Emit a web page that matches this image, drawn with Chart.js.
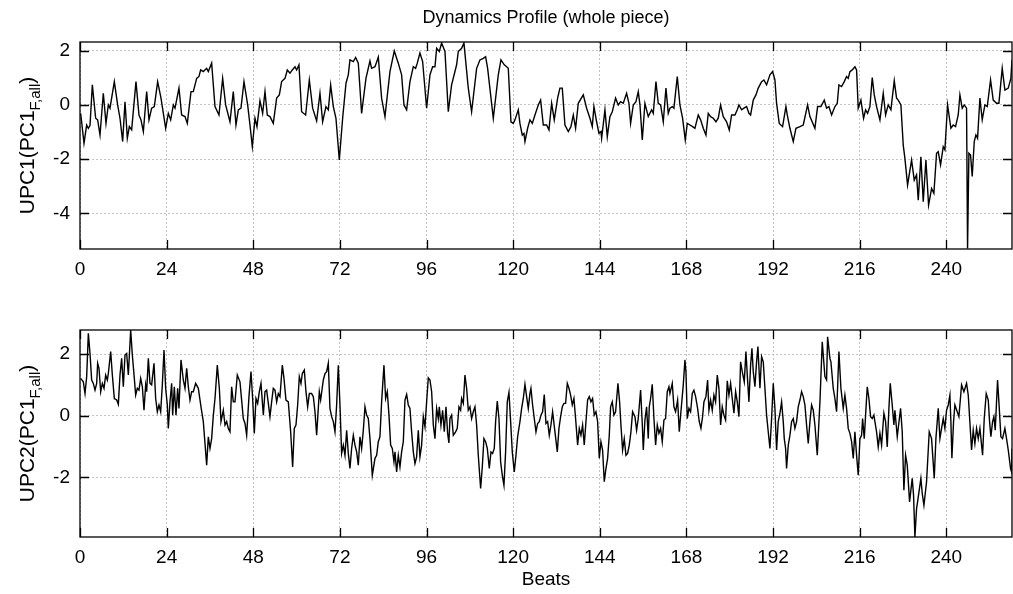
<!DOCTYPE html>
<html><head><meta charset="utf-8">
<script src="https://cdn.jsdelivr.net/npm/chart.js@4/dist/chart.umd.min.js"></script>
<style>
html,body{margin:0;padding:0;background:#fff;width:1013px;height:594px;overflow:hidden}
canvas{position:absolute;left:0;display:block}
#c1{top:0}
#c2{top:300px}
</style></head><body>
<canvas id="c1" width="1013" height="300"></canvas>
<canvas id="c2" width="1013" height="294"></canvas>
<script>
// ---- tick labels / axis ranges ----
const xTicks = [0,24,48,72,96,120,144,168,192,216,240];
const yTicks1 = [-4,-2,0,2];
const yTicks2 = [-2,0,2];
const xMax = 258.2;
const y1Range = [-5.31, 2.32];
const y2Range = [-3.93, 2.78];

// ---- UPC1 (top panel) ----
const beats1 = [
0.18,1.11,1.85,2.31,2.77,3.42,4.34,4.89,5.54,6.46,
7.20,7.85,8.31,9.51,10.43,11.08,11.82,12.47,13.11,13.67,
14.31,15.51,16.34,16.90,17.55,18.47,19.11,19.85,20.59,21.51,
22.44,23.73,24.47,25.12,25.86,26.32,27.42,28.16,29.09,29.73,
30.75,31.39,32.32,32.96,33.43,34.16,35.09,35.55,36.47,37.40,
38.50,39.52,40.35,41.55,42.47,43.21,43.86,44.60,45.43,46.45,
47.09,47.74,48.48,49.03,49.86,50.60,51.25,51.89,52.63,53.55,
54.48,55.22,55.86,56.79,57.43,58.17,58.82,59.56,60.02,60.66,
61.40,62.51,63.53,64.45,65.56,66.48,67.22,68.14,68.79,69.44,
70.18,70.91,71.84,72.76,73.69,74.33,74.79,75.72,76.36,77.10,
78.02,79.22,80.33,80.79,81.72,82.64,83.56,84.49,85.87,87.07,
88.18,89.10,89.75,90.49,91.41,92.34,92.98,93.44,94.18,94.92,
96.03,96.95,97.69,98.34,98.80,99.54,100.18,101.11,102.03,102.95,
104.34,104.80,105.72,106.37,107.57,108.49,109.88,110.80,111.73,112.37,
112.93,114.50,115.88,116.62,117.54,118.19,118.65,119.39,120.04,120.50,
121.42,121.88,122.53,122.99,123.27,124.01,124.65,125.30,126.04,126.96,
127.61,128.35,129.27,129.92,130.66,131.39,132.32,132.96,133.61,134.35,
135.27,136.01,136.66,137.30,138.04,139.43,140.35,141.27,141.92,142.38,
143.12,143.77,144.32,144.51,145.43,146.08,146.81,147.46,148.38,149.12,
149.77,150.51,151.43,152.08,152.54,153.28,154.02,154.66,155.13,155.77,
156.51,157.43,158.36,158.82,159.56,160.20,160.85,161.59,162.33,162.97,
163.43,164.08,164.54,165.47,166.20,166.94,167.68,168.24,168.98,169.71,
170.36,171.28,171.93,172.67,173.41,174.05,174.70,175.44,176.18,176.82,
177.47,178.21,179.13,179.87,180.52,181.44,182.09,182.55,183.29,183.93,
184.67,185.32,185.78,186.52,187.26,187.90,188.83,189.47,190.21,191.14,
191.88,192.52,192.98,193.72,194.64,195.57,195.94,196.68,197.60,198.34,
199.45,200.37,201.57,202.22,203.60,204.34,205.26,206.19,206.83,207.48,
208.22,209.14,209.79,210.25,210.99,211.73,212.37,212.83,213.30,213.94,
214.68,215.14,215.60,216.34,217.08,217.64,218.19,218.84,219.48,220.04,
220.68,221.61,222.53,223.18,223.91,224.65,225.58,226.22,226.68,227.42,
228.07,228.53,229.27,230.38,231.12,231.76,232.23,232.96,233.61,234.35,
235.09,235.92,236.56,237.30,237.76,238.41,239.15,239.61,240.35,241.27,
241.92,242.56,243.30,243.77,244.41,244.97,245.61,245.89,246.26,246.72,
247.18,247.74,248.20,248.66,249.31,249.95,250.69,251.34,252.26,253.00,
253.92,254.57,255.49,256.23,257.16,257.89,258.20
];
const upc1 = [
-0.31,-1.41,-0.74,-0.86,-0.76,0.74,-0.49,-0.55,-1.11,0.43,
-0.68,0,-0.12,0.86,0,-0.49,-1.35,0.12,-1.23,-0.80,
-0.92,0.86,-0.37,-0.55,-0.98,0.49,-0.55,-0.12,-0.06,0.86,
0.25,-0.86,-0.31,-0.55,0,-0.12,0.62,-0.37,-0.43,-0.68,
0.49,0.49,0.98,1.05,1.29,1.23,1.35,1.23,1.54,-0.06,
-0.37,0.98,0,-0.62,0.49,-0.74,-0.18,-0.12,0.86,0,
-0.74,-1.54,-0.49,-0.80,0.15,-0.31,0.49,-0.37,-0.43,-0.68,
0.25,0.37,0.86,0.98,1.29,1.17,1.29,1.41,1.29,1.48,
-0.25,-0.37,0.92,-0.12,-0.59,0.43,-0.62,-0.06,-0.18,0.74,
-0.06,-0.49,-2.03,-0.49,0.80,1.11,1.66,1.60,1.75,1.54,
-0.31,0.98,1.62,1.35,1.41,1.76,0.25,-0.43,1.23,1.99,
1.54,1.11,0,-0.18,0.86,1.41,1.35,1.54,1.91,1.60,
-0.12,1.11,1.41,1.41,2.09,1.97,2.28,1.97,-0.25,0.74,
1.48,1.97,2.09,2.28,0.62,-0.25,1.35,1.66,1.72,1.78,
1.35,-0.49,1.11,1.66,1.48,1.41,1.35,-0.62,-0.68,-0.55,
-0.18,-0.68,-1.11,-1.05,-1.35,-0.86,-0.55,-0.68,-0.37,0,
0.18,-0.74,-0.74,-0.92,0.06,-0.55,0.25,0.62,0.62,-0.74,
-0.98,-0.80,-0.37,-0.86,0.06,0.37,-0.12,-0.49,-0.80,-0.06,
-0.62,-1.05,-0.98,-1.23,-0.18,-1.17,-0.43,-0.25,0.25,0,
0.12,0.06,0.43,0.06,-0.68,0,0.12,0.49,0,-1.29,
0.06,-0.43,-0.18,-0.31,0.86,0.06,0,-0.62,0.62,-0.31,
-0.12,-0.06,-0.12,1.05,0,-0.49,-1.29,-0.68,-0.74,-0.80,
-0.86,-0.37,-0.55,-0.86,-1.11,-0.31,-0.43,-0.49,-0.62,-0.49,
0,-0.43,-0.62,-0.92,-0.37,-0.37,-0.18,0,-0.18,-0.12,
-0.06,-0.31,-0.37,0.18,0.37,0.62,0.86,0.92,0.74,1.11,
1.23,0.92,0.06,-0.68,-0.80,-0.06,-0.37,-0.86,-1.35,-0.86,
-0.80,-0.74,0,-0.43,-0.86,-0.06,-0.06,0.18,-0.12,-0.06,
-0.37,-0.06,0.06,0.74,0.68,0.86,1.05,0.98,1.23,1.29,
1.41,1.29,-0.12,0.18,-0.49,-0.18,-0.31,-0.06,1.01,0.37,
-0.06,-0.55,0.43,-0.37,0,-0.18,0.89,0.25,0.18,0,
-1.48,-1.97,-2.95,-2.03,-2.77,-2.58,-3.51,-1.91,-3.57,-2.03,
-3.69,-3.08,-3.26,-1.78,-1.72,-2.21,-1.54,-1.66,0,-0.86,
-0.74,-0.80,-0.37,0.37,-0.12,0,-0.12,-5.29,-1.78,-1.85,
-2.64,-1.35,-1.11,-1.23,0.25,-0.55,0,-0.06,0.92,0.18,
0.06,0.06,1.35,0.55,0.62,0.98,1.66
];

// ---- UPC2 (bottom panel) ----
const beats2 = [
0.18,0.92,1.39,1.85,2.31,2.77,3.23,3.69,4.16,4.62,
4.89,5.26,5.73,6.19,6.65,7.11,7.57,7.85,8.50,8.96,
9.51,10.16,10.62,11.08,11.54,12.00,12.47,12.93,13.39,14.04,
14.50,15.05,15.42,15.88,16.34,16.81,17.27,17.73,18.19,18.47,
18.93,19.39,19.85,20.50,20.96,21.42,21.88,22.35,22.81,23.27,
23.73,24.19,24.47,24.93,25.39,25.67,26.13,26.59,27.06,27.42,
27.98,28.62,29.09,29.55,30.01,30.47,30.93,31.39,32.04,32.78,
33.52,34.16,34.63,35.09,35.55,36.01,36.47,36.94,37.40,38.04,
38.60,39.06,39.70,40.17,40.63,41.09,41.55,42.01,42.47,42.94,
43.58,44.32,45.24,45.71,46.17,46.81,47.37,47.83,48.29,48.75,
49.22,49.68,50.14,50.79,51.25,51.71,52.17,52.63,53.09,53.55,
54.02,54.48,54.94,55.40,56.05,56.51,57.06,57.71,58.36,58.91,
59.37,59.83,60.30,60.76,61.22,61.59,62.14,62.60,63.07,63.53,
64.17,64.64,65.10,65.56,66.30,66.67,67.41,67.87,68.33,68.79,
69.25,69.71,70.18,70.64,71.10,71.56,72.02,72.48,72.95,73.41,
73.87,74.33,74.79,75.25,75.72,76.18,76.64,77.10,77.56,78.02,
78.49,78.95,79.41,79.87,80.33,80.98,81.72,82.18,82.64,83.10,
83.56,84.21,84.67,85.13,85.60,86.06,86.52,86.98,87.26,87.72,
88.18,88.64,89.10,89.57,90.03,90.49,90.95,91.41,91.87,92.34,
92.80,93.26,93.72,94.18,94.64,95.11,95.57,96.03,96.49,96.95,
97.42,97.88,98.34,98.80,99.26,99.54,100.00,100.46,100.92,101.39,
101.85,102.20,102.49,102.95,103.42,104.06,104.52,104.99,105.45,105.72,
106.19,106.65,107.11,107.57,108.03,108.49,108.96,109.42,109.88,110.34,
110.99,111.45,111.91,112.37,112.84,113.39,113.85,114.31,114.77,115.14,
115.60,116.07,116.53,116.99,117.45,117.91,118.37,118.84,119.30,119.76,
120.31,120.78,121.24,121.88,122.35,122.81,123.27,123.73,124.19,124.65,
124.93,125.39,125.85,126.32,126.78,127.24,127.70,128.16,128.62,129.09,
129.55,130.01,130.47,130.93,131.58,132.23,132.69,133.15,133.61,134.07,
134.53,135.00,135.46,135.92,136.38,136.84,137.30,137.86,138.32,138.78,
139.24,139.70,140.17,140.63,141.09,141.55,142.01,142.47,142.94,143.40,
143.86,144.32,144.78,145.24,145.71,146.17,146.63,147.00,147.46,147.92,
148.38,149.03,149.49,149.86,150.32,150.78,151.25,151.71,152.17,152.63,
153.09,153.74,154.20,154.66,155.31,155.77,156.05,156.51,156.97,157.43,
157.71,158.08,158.54,159.00,159.47,159.93,160.39,160.85,161.31,161.77,
162.23,162.70,163.16,163.43,164.08,164.54,165.00,165.56,166.02,166.48,
167.13,167.59,167.87,168.24,168.70,169.16,169.62,170.08,170.55,171.10,
171.56,172.02,172.48,172.85,173.41,173.87,174.24,174.70,175.16,175.62,
176.08,176.55,177.01,177.47,177.93,178.39,178.85,179.32,179.78,180.24,
180.70,181.16,181.63,182.09,182.55,183.01,183.47,184.03,184.49,184.86,
185.32,185.78,186.15,186.52,186.98,187.44,187.81,188.37,188.83,189.29,
189.75,190.21,190.67,191.14,191.60,192.06,192.52,192.98,193.44,193.91,
194.37,194.83,195.11,195.48,195.75,196.22,196.68,197.14,197.60,198.06,
198.52,198.98,199.45,199.91,200.37,200.83,201.29,201.75,202.22,202.68,
203.14,203.60,204.25,204.99,205.63,206.37,206.83,207.11,207.76,208.03,
208.68,209.14,209.60,209.88,210.25,210.80,211.45,211.91,212.37,212.83,
213.30,213.76,214.22,214.68,215.14,215.60,216.07,216.53,216.81,217.27,
217.64,218.10,218.56,219.02,219.48,219.94,220.22,220.68,221.14,221.61,
222.07,222.71,223.18,223.64,224.10,224.47,225.02,225.48,225.76,226.41,
227.33,227.79,228.25,228.72,229.18,229.82,230.56,230.93,231.30,231.76,
232.04,232.96,233.33,233.80,234.53,235.27,235.92,236.66,237.12,237.77,
238.23,238.69,239.15,239.61,240.07,240.54,241.00,241.27,241.55,242.01,
242.38,243.03,243.49,244.23,244.88,245.61,246.08,247.00,247.46,247.92,
248.38,248.85,249.31,250.05,250.51,251.06,251.62,251.99,252.35,252.82,
253.19,253.55,254.20,254.57,255.12,255.58,256.23,256.69,257.16,257.80,
258.08,258.20
];
const upc2 = [
1.21,1.10,0.72,1.27,2.67,2.02,1.16,1.05,0.83,1.05,
1.70,1.54,0.78,1.05,0.89,1.32,1.16,1.37,2.08,1.32,
0.56,0.51,0.37,1.32,1.86,0.94,1.97,2.02,1.32,2.78,
1.97,1.21,0.67,0.89,0.83,1.21,0.94,0.18,1.00,0.78,
1.86,1.05,1.00,1.70,0.56,0.13,0.35,0.13,1.00,2.13,
0.89,0.35,-0.41,0.45,1.05,0.02,0.94,0.02,0.89,0.24,
1.81,1.16,0.89,1.54,0.94,0.51,0.78,0.78,1.05,0.89,
0.29,-0.19,-0.90,-1.60,-0.68,-1.06,-0.74,0.02,0.56,1.64,
0.89,-0.19,0.18,-0.30,-0.19,-0.41,-0.52,0.94,0.45,0.45,
1.32,1.10,-0.09,-0.25,-0.63,0.62,1.43,0.56,-0.57,0.56,
0.40,0.78,1.05,0.02,0.78,0.83,0.40,-0.03,0.45,0.89,
0.83,0.45,0.72,0.62,1.64,1.21,0.51,0.45,-0.52,-1.66,
-0.41,-0.30,0.35,1.27,1.05,1.37,1.48,0.78,0.29,0.72,
0.72,0.62,0.13,-0.63,0.78,0.51,1.16,1.37,1.43,1.70,
0.24,-0.03,-0.19,-0.52,0.35,1.64,0.35,-1.22,-0.95,-1.28,
-0.47,-1.22,-1.71,-1.06,-0.63,-0.95,-1.17,-1.60,-0.68,-1.06,
-0.47,0.29,0.02,-0.09,-0.74,-1.93,-1.38,-1.28,-0.84,-0.68,
0.45,1.64,0.56,0.78,0.02,-0.95,-1.06,-1.49,-1.17,-1.82,
-1.28,-1.66,-1.17,-0.84,0.51,0.69,0.35,0.24,-0.52,-1.17,
-1.55,-1.33,-0.47,-1.33,-0.95,-0.03,-0.36,0.45,1.23,1.16,
0.78,-0.30,-0.74,0.24,-0.09,0.29,-0.30,0.18,-0.52,0.29,
-0.57,-0.88,-0.09,0.02,-0.63,-0.52,-0.41,0.29,0.18,0.56,
0.40,1.32,0.89,0.18,0.29,-0.09,0.13,0.29,-0.30,-1.28,
-2.36,-1.66,-0.74,-0.84,-1.06,-1.71,-1.17,-1.22,-1.06,-0.19,
0.48,-0.09,-1.49,-1.93,-2.25,-1.17,0.45,0.76,-0.19,-1.17,
-1.82,-1.28,-0.68,-0.19,0.24,0.56,1.02,0.62,0.24,0.72,
0.89,0.35,-0.09,-0.52,-0.25,-0.19,0.02,0.13,0.69,-0.25,
-0.19,-0.63,-0.30,0.13,-0.52,-1.17,-0.41,-0.03,0.29,0.40,
0.40,1.05,0.89,0.67,0.35,0.56,-0.09,-0.95,-0.41,-0.63,
-0.30,-0.95,-0.19,0.51,0.62,0.45,0.56,0.02,0.13,-0.19,
-1.38,-0.84,-1.11,-2.14,-1.71,-1.38,-0.63,0.29,0.45,0.02,
0.13,1.05,0.45,-0.30,-1.11,-0.74,-1.28,-1.22,-0.95,-0.52,
0.13,-0.03,-0.47,-0.09,0.83,-0.25,-1.11,-0.14,0.29,-0.74,
0.29,0.56,1.02,-0.09,-0.95,-0.30,-0.57,-0.41,-0.84,-0.14,
-0.09,0.78,0.94,0.72,1.05,0.29,0.13,0.51,-0.52,0.13,
1.00,1.81,1.43,-0.09,0.24,0.13,0.72,0.83,0.62,0.24,
-0.19,-0.41,-0.03,0.45,0.62,1.16,0.18,0.51,0.18,0.67,
0.45,1.32,0.89,-0.30,0.29,0.02,-0.14,1.13,0.67,1.05,
0.56,0.08,0.78,0.45,-0.03,1.75,1.43,1.10,2.08,1.32,
0.45,1.64,2.19,1.43,0.94,1.75,2.24,0.89,1.92,1.75,
0.89,0.02,-0.52,-1.06,-0.09,1.05,0.24,-1.11,-0.19,0.08,
0.45,-0.19,-0.74,-1.06,-1.71,-0.95,-0.63,-0.19,-0.09,-0.41,
-0.19,0.29,0.51,0.78,0.62,0.35,-0.30,-0.90,-0.19,0.35,
0.18,-0.30,-1.28,0.45,2.40,1.27,1.16,2.56,1.86,1.75,
0.89,0.56,0.13,0.89,2.08,0.89,0.24,0.67,0.24,-0.41,
-0.57,-0.84,-1.38,-0.52,-1.28,-1.93,-0.74,-0.63,-0.09,-0.74,
0.02,0.94,0.56,-0.03,-0.09,0.02,-0.19,-0.52,-1.01,-0.57,
-0.95,0.08,-0.19,-1.01,0.24,1.05,0.35,-0.30,0.18,-0.68,
0.24,-0.52,-2.41,-1.28,-1.60,-2.79,-2.03,-2.58,-3.93,-3.01,
-2.79,-2.03,-2.52,-2.90,-2.14,-0.52,-0.74,-2.03,-0.74,0.24,
-0.74,-0.41,-0.09,-0.41,0.18,0.35,0.67,-0.19,-1.38,-0.19,
0.35,0.13,-0.03,1.00,0.78,1.05,0.67,-1.11,-0.47,-0.90,
-0.41,-0.74,-0.41,-1.28,-0.09,0.72,0.51,-0.19,-0.68,-0.19,
-0.03,-0.47,1.16,0.45,-0.68,-0.74,-0.41,-0.74,-1.11,-1.71,
-1.82,-1.06
];

// ---- helpers ----
const FONT = '"Liberation Sans", Arial, Helvetica, sans-serif';
const TICK_SIZE = 19;
function pairs(xs, ys) {
  const n = Math.min(xs.length, ys.length);
  const out = [];
  for (let i = 0; i < n; i++) out.push({x: xs[i], y: ys[i]});
  return out;
}

function drawYTitle(ctx, cx, cy, main, sub, tail, size) {
  ctx.save();
  ctx.translate(cx, cy);
  ctx.rotate(-Math.PI / 2);
  ctx.fillStyle = '#000';
  ctx.textBaseline = 'alphabetic';
  const f1 = size + 'px ' + FONT;
  const f2 = Math.round(size * 0.72) + 'px ' + FONT;
  ctx.font = f1; const w1 = ctx.measureText(main).width; const w3 = ctx.measureText(tail).width;
  ctx.font = f2; const w2 = ctx.measureText(sub).width;
  let x = -(w1 + w2 + w3) / 2;
  const base = size * 0.36;
  ctx.font = f1; ctx.fillText(main, x, base); x += w1;
  ctx.font = f2; ctx.fillText(sub, x, base + size * 0.32); x += w2;
  ctx.font = f1; ctx.fillText(tail, x, base);
  ctx.restore();
}

function framePlugin(opts) {
  return {
    id: 'frame',
    afterDraw(chart) {
      const {ctx, chartArea: a, scales} = chart;
      const xs = scales.x, ys = scales.y;
      ctx.save();
      ctx.strokeStyle = '#000';
      ctx.lineWidth = 1.3;
      ctx.strokeRect(a.left, a.top, a.right - a.left, a.bottom - a.top);
      const L = 9;
      ctx.beginPath();
      xTicks.forEach(v => {
        const px = Math.round(xs.getPixelForValue(v)) + 0.5;
        ctx.moveTo(px, a.bottom); ctx.lineTo(px, a.bottom - L);
        ctx.moveTo(px, a.top); ctx.lineTo(px, a.top + L);
      });
      opts.yTicks.forEach(v => {
        const py = Math.round(ys.getPixelForValue(v)) + 0.5;
        ctx.moveTo(a.left, py); ctx.lineTo(a.left + L, py);
        ctx.moveTo(a.right, py); ctx.lineTo(a.right - L, py);
      });
      ctx.stroke();
      ctx.restore();
      // texts
      ctx.save();
      ctx.fillStyle = '#000';
      ctx.textAlign = 'center';
      ctx.textBaseline = 'middle';
      if (opts.title) {
        ctx.font = '18px ' + FONT;
        ctx.fillText(opts.title, (a.left + a.right) / 2, 18);
      }
      if (opts.xTitle) {
        ctx.font = '19px ' + FONT;
        ctx.fillText(opts.xTitle, (a.left + a.right) / 2, opts.xTitleY);
      }
      ctx.restore();
      drawYTitle(ctx, 26, (a.top + a.bottom) / 2, opts.yMain, 'F,all', ')', 21);
    }
  };
}

function makeChart(id, xs, ys, yRange, yTicks, padTop, xAxisH, extra) {
  const ctx = document.getElementById(id).getContext('2d');
  return new Chart(ctx, {
    type: 'line',
    data: {
      datasets: [{
        data: pairs(xs, ys),
        borderColor: '#000',
        borderWidth: 1.4,
        pointRadius: 0,
        tension: 0,
        fill: false
      }]
    },
    options: {
      responsive: false,
      animation: false,
      devicePixelRatio: 1,
      layout: {padding: {left: 0, right: 1, top: padTop, bottom: 0}},
      plugins: {legend: {display: false}, tooltip: {enabled: false}},
      scales: {
        x: {
          type: 'linear', min: 0, max: xMax,
          afterBuildTicks: s => { s.ticks = xTicks.map(v => ({value: v})); },
          afterFit: s => { s.height = xAxisH; },
          ticks: {color: '#000', font: {family: FONT, size: TICK_SIZE}, padding: 9, maxRotation: 0, autoSkip: false},
          grid: {color: '#c4c4c4', lineWidth: 1, drawTicks: false},
          border: {display: false, dash: [2, 2]}
        },
        y: {
          type: 'linear', min: yRange[0], max: yRange[1],
          afterBuildTicks: s => { s.ticks = yTicks.map(v => ({value: v})); },
          afterFit: s => { s.width = 80; },
          ticks: {color: '#000', font: {family: FONT, size: TICK_SIZE}, padding: 10},
          grid: {color: '#c4c4c4', lineWidth: 1, drawTicks: false},
          border: {display: false, dash: [2, 2]}
        }
      }
    },
    plugins: [framePlugin(extra)]
  });
}

makeChart('c1', beats1, upc1, y1Range, yTicks1, 42, 51,
  {yTicks: yTicks1, title: 'Dynamics Profile (whole piece)', yMain: 'UPC1(PC1'});
makeChart('c2', beats2, upc2, y2Range, yTicks2, 30, 57,
  {yTicks: yTicks2, xTitle: 'Beats', xTitleY: 280, yMain: 'UPC2(PC1'});
</script>
</body></html>
